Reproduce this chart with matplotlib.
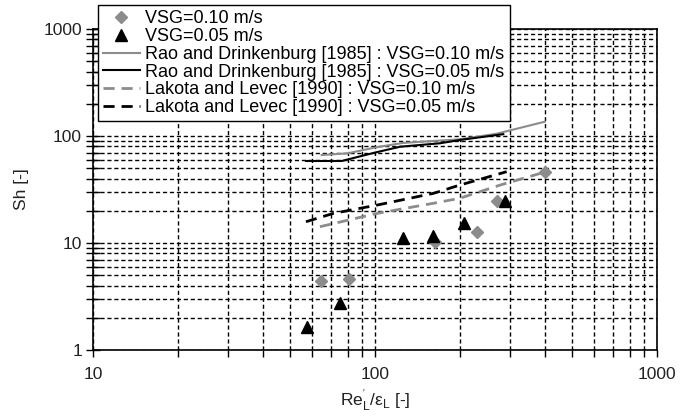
import numpy as np
import matplotlib.pyplot as plt

plt.rcParams['font.family'] = ['Liberation Sans', 'DejaVu Sans']
plt.rcParams['mathtext.fontset'] = 'custom'
plt.rcParams['mathtext.rm'] = 'Liberation Sans'
plt.rcParams['mathtext.it'] = 'Liberation Sans:italic'

# Experimental points
re_010 = [64.2, 80.9, 163, 229.6, 270, 400]
sh_010 = [4.42, 4.61, 10.3, 12.6, 24.7, 46.4]
re_005 = [57.3, 75.2, 126, 161, 207, 289]
sh_005 = [1.65, 2.77, 11.2, 11.7, 15.5, 24.7]

# Rao and Drinkenburg [1985] correlation
rao_x_010 = [64.7, 80, 100, 125, 162, 200, 270, 400]
rao_y_010 = [66.4, 68.9, 78, 86, 90, 93, 105, 136]
rao_x_005 = [56.9, 76.2, 100, 122.8, 170, 200, 285]
rao_y_005 = [58.4, 58.4, 70, 79.4, 85.5, 91.8, 104]

# Lakota and Levec [1990] correlation
lak_x_010 = [63.8, 101.6, 161, 200, 278, 400]
lak_y_010 = [14.2, 18.9, 23.5, 26.2, 34.8, 46]
lak_x_005 = [56.9, 71.1, 101.6, 161, 200, 293]
lak_y_005 = [15.8, 18.9, 22.6, 29.1, 34.8, 46.4]

grey = '#8c8c8c'
fs = 12.5

fig = plt.figure(figsize=(6.94, 4.19), dpi=100)
ax = fig.add_axes([93 / 694, 1 - 350 / 419, 564 / 694, 321 / 419])

ax.plot(re_010, sh_010, 'D', color=grey, markersize=6.5, linestyle='none',
        label='VSG=0.10 m/s', zorder=4)
ax.plot(re_005, sh_005, '^', color='black', markersize=8.5, linestyle='none',
        label='VSG=0.05 m/s', zorder=4)
ax.plot(rao_x_010, rao_y_010, '-', color=grey, lw=1.5,
        label='Rao and Drinkenburg [1985] : VSG=0.10 m/s', zorder=3)
ax.plot(rao_x_005, rao_y_005, '-', color='black', lw=1.5,
        label='Rao and Drinkenburg [1985] : VSG=0.05 m/s', zorder=3)
ax.plot(lak_x_010, lak_y_010, color=grey, lw=2, linestyle=(0, (4, 2.5)),
        label='Lakota and Levec [1990] : VSG=0.10 m/s', zorder=3)
ax.plot(lak_x_005, lak_y_005, color='black', lw=2, linestyle=(0, (4, 2.5)),
        label='Lakota and Levec [1990] : VSG=0.05 m/s', zorder=3)

ax.set_xscale('log')
ax.set_yscale('log')
ax.set_xlim(10, 1000)
ax.set_ylim(1, 1000)
ax.set_xticks([10, 100, 1000])
ax.set_xticklabels(['10', '100', '1000'])
ax.set_yticks([1, 10, 100, 1000])
ax.set_yticklabels(['1', '10', '100', '1000'])

ax.grid(True, which='both', color='black', lw=1, linestyle=(0, (3, 2)))
ax.set_axisbelow(True)

ax.tick_params(axis='x', which='major', direction='out', length=5, width=1,
               labelsize=fs, pad=7, labelcolor='#222222')
ax.tick_params(axis='x', which='minor', direction='out', length=5, width=1)
ax.tick_params(axis='y', which='major', direction='inout', length=10, width=1,
               labelsize=fs, pad=3, labelcolor='#222222')
ax.tick_params(axis='y', which='minor', direction='inout', length=10, width=1)
for s in ax.spines.values():
    s.set_linewidth(1.2)

ax.set_xlabel("Re$_\\mathrm{L}^{'}$/\u03b5$_\\mathrm{L}$ [-]", fontsize=fs,
              color='#222222', labelpad=4)
ax.set_ylabel('Sh [-]', fontsize=fs, color='#222222', labelpad=10)

leg = ax.legend(loc='upper left', bbox_to_anchor=(0.0089, 1.0748),
                fontsize=13, frameon=True, fancybox=False, framealpha=1,
                edgecolor='black', labelspacing=0.04, handlelength=2.0,
                handletextpad=0.3, borderpad=0.3, borderaxespad=0)
leg.get_frame().set_linewidth(1)
leg.set_zorder(10)

fig.savefig('out.png', dpi=100)
